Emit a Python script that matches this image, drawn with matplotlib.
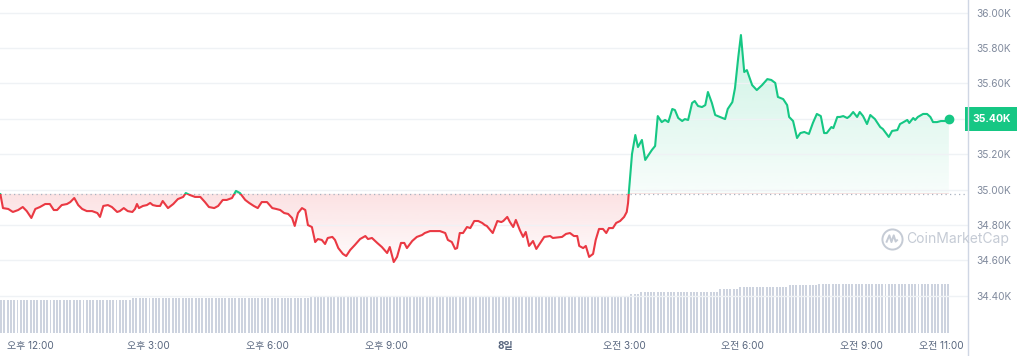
import numpy as np
import matplotlib.pyplot as plt
from matplotlib.colors import to_rgb
from matplotlib.lines import Line2D
from matplotlib.patches import Rectangle
from matplotlib.path import Path

plt.rcParams["font.family"] = ["Inter", "Noto Sans CJK KR", "DejaVu Sans"]

# minutes relative to 오후 12:00 (day 7), price in USD
minutes = [
    -45, -41, -33, -26, -18, -11, -5, 2, 8, 15,
    23, 30, 36, 41, 48, 56, 61, 67, 73, 79,
    86, 94, 102, 106, 111, 118, 124, 132, 136, 142,
    148, 155, 159, 162, 165, 171, 177, 182, 186, 192,
    197, 201, 209, 217, 224, 232, 236, 242, 250, 258,
    265, 271, 279, 285, 292, 298, 306, 312, 318, 326,
    332, 339, 345, 351, 359, 367, 373, 379, 385, 391,
    397, 401, 406, 412, 417, 421, 427, 432, 436, 442,
    447, 451, 458, 462, 467, 474, 479, 485, 492, 500,
    508, 512, 518, 526, 533, 541, 545, 551, 556, 562,
    567, 571, 579, 586, 594, 598, 606, 614, 621, 629,
    633, 639, 644, 647, 651, 656, 662, 667, 673, 679,
    685, 689, 692, 701, 708, 714, 717, 723, 727, 732,
    736, 742, 747, 751, 756, 762, 767, 773, 779, 788,
    792, 806, 812, 818, 824, 829, 832, 838, 842, 847,
    853, 857, 862, 868, 873, 877, 883, 888, 894, 900,
    904, 906, 907, 912, 917, 921, 927, 932, 936, 942,
    947, 951, 957, 962, 967, 973, 977, 982, 988, 992,
    997, 1003, 1007, 1012, 1018, 1023, 1027, 1033, 1038, 1045,
    1053, 1057, 1064, 1068, 1073, 1077, 1082, 1086, 1094, 1101,
    1109, 1117, 1123, 1129, 1133, 1141, 1147, 1150, 1156, 1162,
    1167, 1173, 1180, 1186, 1192, 1198, 1203, 1207, 1214, 1217,
    1223, 1227, 1232, 1238, 1242, 1247, 1253, 1257, 1262, 1268,
    1273, 1280, 1288, 1292, 1301, 1306, 1314, 1318, 1321, 1329,
    1332, 1338, 1341, 1345, 1353, 1359, 1364, 1368, 1374, 1380,
    1386, 1392,
]
price = [
    34975, 34895, 34890, 34873, 34884, 34901, 34878, 34839, 34890, 34901,
    34918, 34918, 34884, 34884, 34912, 34918, 34929, 34952, 34912, 34890,
    34878, 34878, 34867, 34845, 34907, 34912, 34901, 34873, 34878, 34895,
    34878, 34873, 34890, 34918, 34895, 34907, 34912, 34924, 34912, 34907,
    34907, 34935, 34895, 34918, 34946, 34958, 34980, 34969, 34958, 34958,
    34929, 34901, 34895, 34907, 34941, 34941, 34952, 34992, 34980, 34941,
    34924, 34907, 34895, 34929, 34929, 34895, 34890, 34884, 34867, 34862,
    34839, 34794, 34867, 34895, 34884, 34799, 34788, 34703, 34720, 34715,
    34692, 34726, 34732, 34715, 34669, 34636, 34624, 34658, 34686, 34720,
    34737, 34720, 34726, 34698, 34675, 34641, 34675, 34590, 34619, 34698,
    34698, 34669, 34709, 34732, 34743, 34754, 34765, 34765, 34765, 34754,
    34715, 34703, 34664, 34669, 34754, 34754, 34788, 34782, 34822, 34822,
    34811, 34799, 34794, 34754, 34822, 34816, 34822, 34845, 34816, 34788,
    34828, 34771, 34732, 34760, 34681, 34709, 34664, 34698, 34732, 34737,
    34726, 34732, 34749, 34754, 34737, 34737, 34681, 34669, 34681, 34619,
    34636, 34715, 34777, 34777, 34754, 34782, 34782, 34811, 34822, 34845,
    34873, 34924, 34975, 35201, 35308, 35240, 35280, 35167, 35189, 35223,
    35246, 35415, 35381, 35393, 35381, 35455, 35449, 35404, 35387, 35398,
    35393, 35489, 35500, 35472, 35466, 35477, 35551, 35489, 35421, 35410,
    35398, 35455, 35494, 35573, 35749, 35873, 35664, 35675, 35590, 35562,
    35590, 35624, 35619, 35602, 35523, 35511, 35477, 35410, 35387, 35291,
    35319, 35325, 35314, 35376, 35427, 35415, 35319, 35319, 35353, 35347,
    35410, 35410, 35415, 35404, 35415, 35438, 35410, 35438, 35415, 35370,
    35421, 35398, 35353, 35342, 35297, 35331, 35336, 35370, 35376, 35393,
    35376, 35404, 35393, 35410, 35427, 35427, 35410, 35381, 35381, 35387,
    35387, 35398,
]
base_price = 34975
last_label = "35.40K"

# 5-minute volume bars, given as runs of equal height (bn USD)
vol_counts = [40, 54, 84, 13, 3, 24, 6, 15, 9, 40]
vol_levels = [16.5, 17.6, 18.2, 18.0, 19.5, 20.7, 22.0, 23.2, 24.0, 24.6]

xtick_pos = [0, 180, 360, 540, 720, 900, 1080, 1260, 1380]
xtick_labels = ["오후 12:00", "오후 3:00", "오후 6:00", "오후 9:00", "8일",
                "오전 3:00", "오전 6:00", "오전 9:00", "오전 11:00"]
ytick_vals = [34400, 34600, 34800, 35000, 35200, 35400, 35600, 35800, 36000]

GREEN = "#16c784"
RED = "#ea3943"

W, H = 1018, 356
fig = plt.figure(figsize=(W / 100, H / 100), dpi=100)
rect = [0, 23 / H, 968 / W, 333 / H]
ax = fig.add_axes(rect)

xmin, xmax = -45.5, 1421
ymin, ymax = 34189, 36071

# volume bars (own axes, drawn underneath the price axes)
axv = fig.add_axes(rect, zorder=-1)
vol = np.repeat(vol_levels, vol_counts)
bar_t = -44 + 5 * np.arange(len(vol))
axv.bar(bar_t, vol, width=3.0, color="#cdd3df", linewidth=0)
axv.set_ylim(0, 166.5)
axv.set_xlim(xmin, xmax)
axv.axis("off")
ax.patch.set_visible(False)

# gradient fills clipped to the area between line and baseline
coll = ax.fill_between(minutes, price, base_price, facecolor="none", edgecolor="none")
clip_path = coll.get_paths()[0]

g = np.zeros((256, 1, 4))
g[..., :3] = to_rgb(GREEN)
g[:, 0, 3] = np.linspace(0.03, 0.22, 256)
im_g = ax.imshow(g, extent=[xmin, xmax, base_price, max(price)], origin="lower",
                 aspect="auto", zorder=1, interpolation="bilinear")
im_g.set_clip_path(clip_path, transform=ax.transData)

r = np.zeros((256, 1, 4))
r[..., :3] = to_rgb(RED)
r[:, 0, 3] = np.linspace(0.02, 0.15, 256)
im_r = ax.imshow(r, extent=[xmin, xmax, min(price), base_price], origin="lower",
                 aspect="auto", zorder=1, interpolation="bilinear")
im_r.set_clip_path(clip_path, transform=ax.transData)

ax.set_xlim(xmin, xmax)
ax.set_ylim(ymin, ymax)

# price line, green above the reference price, red below
for color, lo, hi in [(GREEN, base_price, ymax), (RED, ymin, base_price)]:
    ln, = ax.plot(minutes, price, color=color, lw=1.5, zorder=3,
                  solid_joinstyle="round", solid_capstyle="round")
    ln.set_clip_path(Rectangle((xmin, lo), xmax - xmin, hi - lo, transform=ax.transData))

ax.plot(minutes[-1], price[-1], "o", color=GREEN, ms=6, zorder=4)
ax.axhline(base_price, color="#a9b2c0", lw=0.9, ls=(0, (1, 2.6)), zorder=2)

# axes styling; the 35.40K tick is covered by the current price tag
for s in ax.spines.values():
    s.set_visible(False)
ax.yaxis.tick_right()
ylabels = ["" if v == 35400 else f"{v / 1000:.2f}K" for v in ytick_vals]
ax.set_yticks(ytick_vals, ylabels)
ax.tick_params(axis="y", length=0, pad=6, labelsize=7.3, labelcolor="#808a9d")
ax.set_xticks(xtick_pos, xtick_labels)
ax.tick_params(axis="x", length=0, pad=6, labelsize=7.2, labelcolor="#58667e")
ax.get_xticklabels()[4].set_fontweight("bold")
ax.grid(axis="y", color="#eff2f5", lw=1, zorder=0)
ax.grid(axis="x", visible=False)

# right axis line
fig.add_artist(Line2D([968 / W, 968 / W], [0, 1], color="#cfd6e4", lw=1,
                      transform=fig.transFigure))

# current price tag
ax.text(1.0 + 4 / 968, price[-1], last_label, transform=ax.get_yaxis_transform(),
        ha="left", va="center", color="white", fontsize=7.5, fontweight="bold",
        bbox=dict(boxstyle="square,pad=0.65", fc=GREEN, ec="none"), zorder=6)

# watermark
wm = "#c5cbd5"
fig.add_artist(Line2D([892 / W], [117 / H], marker="o", ms=14.5, mfc="none", mec=wm,
                      mew=1.4, transform=fig.transFigure))
wave = Path([(-0.6, -0.3), (-0.3, 0.4), (-0.1, -0.25), (0.12, 0.4), (0.3, -0.2), (0.5, 0.0)])
fig.add_artist(Line2D([892 / W], [117 / H], marker=wave, ms=9, mfc="none", mec=wm,
                      mew=1.4, transform=fig.transFigure))
fig.text(906 / W, 117 / H, "CoinMarketCap", color=wm, fontsize=10, ha="left", va="center")

fig.savefig("out.png", dpi=100)
